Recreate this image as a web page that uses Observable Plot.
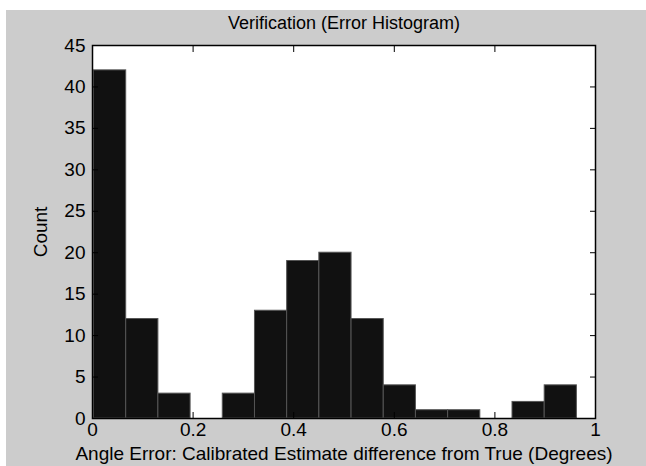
<!DOCTYPE html>
<html>
<head>
<meta charset="utf-8">
<script src="https://cdn.jsdelivr.net/npm/d3@7"></script>
<script src="https://cdn.jsdelivr.net/npm/@observablehq/plot@0.6"></script>
<style>
  html, body { margin: 0; padding: 0; background: #ffffff; }
  #chart { position: absolute; left: 6px; top: 10px; width: 640px; height: 456px; background: #cccccc; }
  #chart svg { display: block; }
</style>
</head>
<body>
<div id="chart"></div>
<script>
const titleText = "Verification (Error Histogram)";
const xLabel = "Angle Error: Calibrated Estimate difference from True (Degrees)";
const yLabel = "Count";
const binStart = [0.003, 0.067, 0.131, 0.195, 0.259, 0.323, 0.387, 0.451, 0.515, 0.579, 0.643, 0.707, 0.771, 0.835, 0.899];
const binEnd   = [0.067, 0.131, 0.195, 0.259, 0.323, 0.387, 0.451, 0.515, 0.579, 0.643, 0.707, 0.771, 0.835, 0.899, 0.963];
const counts   = [42, 12, 3, 0, 3, 13, 19, 20, 12, 4, 1, 1, 0, 2, 4];
const xTicks = [0, 0.2, 0.4, 0.6, 0.8, 1];
const yTicks = [0, 5, 10, 15, 20, 25, 30, 35, 40, 45];

const bins = counts.map((c, i) => ({x1: binStart[i], x2: binEnd[i], count: c})).filter(d => d.count > 0);

const font = "'Liberation Sans', Arial, Helvetica, sans-serif";
const fs = 19;

const chart = Plot.plot({
  width: 640,
  height: 456,
  marginLeft: 86,
  marginRight: 51,
  marginTop: 35,
  marginBottom: 48,
  style: {background: "#cccccc", fontFamily: font, fontSize: fs + "px", color: "#000", overflow: "visible"},
  x: {domain: [0, 1]},
  y: {domain: [0, 45]},
  marks: [
    Plot.frame({fill: "white", stroke: null}),
    Plot.rectY(bins, {x1: "x1", x2: "x2", y: "count", fill: "#111111", stroke: "#555555", strokeWidth: 1, inset: 0}),
    Plot.axisX(xTicks, {anchor: "bottom", tickSize: -6, tickFormat: () => "", label: null, stroke: "#000"}),
    Plot.axisX(xTicks, {anchor: "top", tickSize: -6, tickFormat: () => "", label: null, stroke: "#000"}),
    Plot.axisY(yTicks, {anchor: "left", tickSize: -6, tickFormat: () => "", label: null, stroke: "#000"}),
    Plot.axisY(yTicks, {anchor: "right", tickSize: -6, tickFormat: () => "", label: null, stroke: "#000"}),
    Plot.axisX(xTicks, {anchor: "bottom", tickSize: 0, tickPadding: 4, tickFormat: d => d3.format("")(d), label: null, fontSize: fs, fill: "#000"}),
    Plot.axisY(yTicks, {anchor: "left", tickSize: 0, tickPadding: 7, label: null, fontSize: fs, fill: "#000"}),
    Plot.frame({stroke: "#000", strokeWidth: 1.5}),
    Plot.text([titleText], {frameAnchor: "top", lineAnchor: "middle", dy: -22, fontSize: 18, fill: "#000"}),
    Plot.text([xLabel], {frameAnchor: "bottom", lineAnchor: "middle", dy: 35, fontSize: fs, fill: "#000"}),
    Plot.text([yLabel], {frameAnchor: "left", textAnchor: "middle", lineAnchor: "middle", dx: -52, rotate: -90, fontSize: fs, fill: "#000"})
  ]
});
document.getElementById("chart").appendChild(chart);
</script>
</body>
</html>
